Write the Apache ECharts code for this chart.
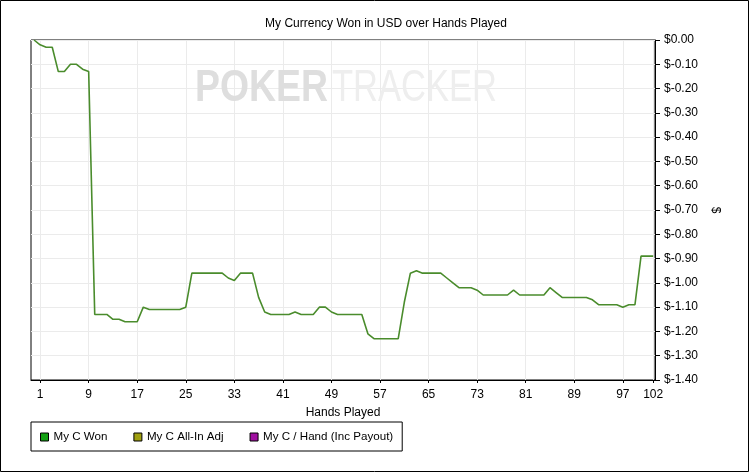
<!DOCTYPE html>
<html>
<head>
<meta charset="utf-8">
<script src="https://cdn.jsdelivr.net/npm/echarts@6/dist/echarts.min.js"></script>
<style>
html,body{margin:0;padding:0;background:#fff;}
#chart{width:749px;height:472px;}
</style>
</head>
<body>
<div id="chart"></div>
<script>
// Hand index (0 = start) and cumulative USD won after each hand
var hands = [0,1,2,3,4,5,6,7,8,9,10,11,12,13,14,15,16,17,18,19,20,21,22,23,24,25,26,27,28,29,30,31,32,33,34,35,36,37,38,39,40,41,42,43,44,45,46,47,48,49,50,51,52,53,54,55,56,57,58,59,60,61,62,63,64,65,66,67,68,69,70,71,72,73,74,75,76,77,78,79,80,81,82,83,84,85,86,87,88,89,90,91,92,93,94,95,96,97,98,99,100,101,102];
var wonValues = [0,-0.02,-0.03,-0.03,-0.13,-0.13,-0.10,-0.10,-0.12,-0.13,
  -1.13,-1.13,-1.13,-1.15,-1.15,-1.16,-1.16,-1.16,-1.10,-1.11,
  -1.11,-1.11,-1.11,-1.11,-1.11,-1.10,-0.96,-0.96,-0.96,-0.96,
  -0.96,-0.96,-0.98,-0.99,-0.96,-0.96,-0.96,-1.06,-1.12,-1.13,
  -1.13,-1.13,-1.13,-1.12,-1.13,-1.13,-1.13,-1.10,-1.10,-1.12,
  -1.13,-1.13,-1.13,-1.13,-1.13,-1.21,-1.23,-1.23,-1.23,-1.23,
  -1.23,-1.08,-0.96,-0.95,-0.96,-0.96,-0.96,-0.96,-0.98,-1.00,
  -1.02,-1.02,-1.02,-1.03,-1.05,-1.05,-1.05,-1.05,-1.05,-1.03,
  -1.05,-1.05,-1.05,-1.05,-1.05,-1.02,-1.04,-1.06,-1.06,-1.06,
  -1.06,-1.06,-1.07,-1.09,-1.09,-1.09,-1.09,-1.10,-1.09,-1.09,
  -0.89,-0.89,-0.89];
var xTickLabels = [1,9,17,25,33,41,49,57,65,73,81,89,97,102];
var seriesNames = ['My C Won','My C All-In Adj','My C / Hand (Inc Payout)'];
var seriesColors = ['#12a012','#a0a010','#a010a0'];

var wonData = hands.map(function(h,i){return [h, wonValues[i]];});
var FONT = 'Liberation Sans, Arial, sans-serif';

var chart = echarts.init(document.getElementById('chart'), null, {renderer:'canvas'});
chart.setOption({
  backgroundColor:'#ffffff',
  animation:false,
  textStyle:{fontFamily:FONT},
  title:{
    text:'My Currency Won in USD over Hands Played',
    left:381, top:13, textAlign:'center',
    textStyle:{fontSize:12, fontWeight:'normal', color:'#000', fontFamily:FONT}
  },
  grid:{
    left:31, right:94, top:40, bottom:92,
    show:true, borderColor:'#000', borderWidth:1, backgroundColor:'transparent'
  },
  legend:{
    left:31, top:422,
    orient:'horizontal',
    data:seriesNames,
    icon:'rect', itemWidth:8, itemHeight:8, itemGap:26,
    borderColor:'#000', borderWidth:1,
    padding:[9,9,8,9],
    itemStyle:{borderColor:'#000', borderWidth:1},
    textStyle:{fontSize:11.6, color:'#000', fontFamily:FONT}
  },
  xAxis:{
    type:'value', min:-0.5, max:102.3,
    name:'Hands Played', nameLocation:'middle', nameGap:27,
    nameTextStyle:{fontSize:12, color:'#000', fontFamily:FONT},
    axisLine:{show:true, onZero:false, lineStyle:{color:'#000', width:1}},
    axisTick:{show:true, inside:false, length:3, customValues:xTickLabels, lineStyle:{color:'#000'}},
    axisLabel:{customValues:xTickLabels, margin:9, fontSize:12, color:'#000', fontFamily:FONT},
    splitLine:{show:true, lineStyle:{color:'#ebebeb', width:1}}
  },
  yAxis:{
    type:'value', position:'right', min:-1.4, max:0, interval:0.1,
    name:'$', nameLocation:'middle', nameGap:42, nameRotate:-90,
    nameTextStyle:{fontSize:12, color:'#000', fontFamily:FONT},
    axisLine:{show:true, onZero:false, lineStyle:{color:'#000', width:1}},
    axisTick:{show:true, inside:false, length:5, lineStyle:{color:'#000'}},
    axisLabel:{margin:9, fontSize:12, color:'#000', fontFamily:FONT,
      formatter:function(v){ var a=Math.abs(v); return a<1e-9 ? '$0.00' : '$-' + a.toFixed(2); }},
    splitLine:{show:true, lineStyle:{color:'#ebebeb', width:1}}
  },
  graphic:[
    {type:'rect', silent:true, z:100,
     shape:{x:0.5,y:0.5,width:748,height:471},
     style:{fill:'none', stroke:'#000', lineWidth:1}},
    {type:'text', silent:true, z:1, x:195, y:89, scaleX:0.85,
     style:{text:'POKER', fill:'#dedede', font:'bold 44px Liberation Sans, Arial, sans-serif', verticalAlign:'middle'}},
    {type:'text', silent:true, z:1, x:332, y:89, scaleX:0.785,
     style:{text:'TRACKER', fill:'#eeeeee', font:'44px Liberation Sans, Arial, sans-serif', verticalAlign:'middle'}}
  ],
  series:[
    {name:seriesNames[0], type:'line', data:wonData, showSymbol:false, symbol:'none',
     itemStyle:{color:seriesColors[0]}, lineStyle:{color:'#4a8c2c', width:1.6}, z:5},
    {name:seriesNames[1], type:'line', data:[], showSymbol:false,
     itemStyle:{color:seriesColors[1]}, lineStyle:{color:seriesColors[1]}},
    {name:seriesNames[2], type:'line', data:[], showSymbol:false,
     itemStyle:{color:seriesColors[2]}, lineStyle:{color:seriesColors[2]}}
  ]
});
</script>
</body>
</html>
